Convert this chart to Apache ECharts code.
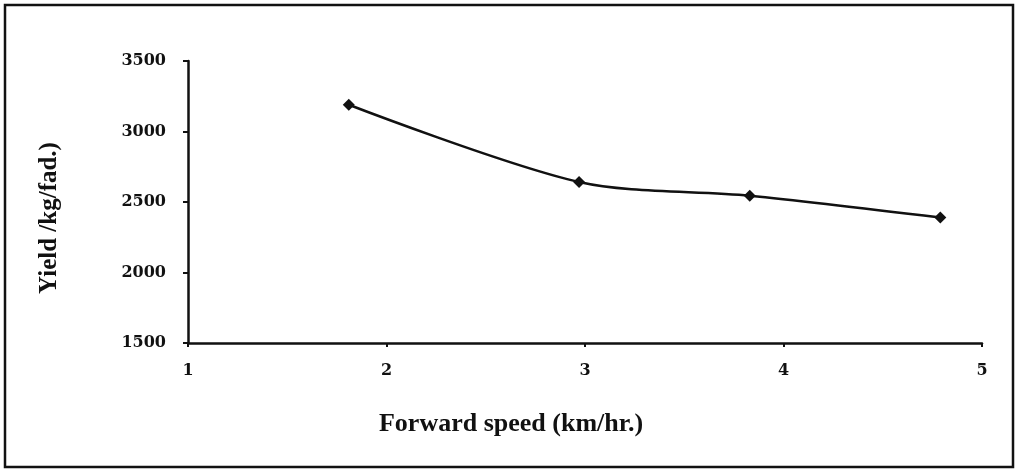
<!DOCTYPE html>
<html><head><meta charset="utf-8">
<script src="https://cdn.jsdelivr.net/npm/echarts@6/dist/echarts.min.js"></script>
<style>html,body{margin:0;padding:0;background:#fff}#c{width:1018px;height:472px}</style>
</head><body><div id="c"></div>
<script>
const speeds = [1.81, 2.97, 3.83, 4.79];
const yields = [3190, 2642, 2545, 2390];
const xTicks = [1, 2, 3, 4, 5];
const yTicks = [1500, 2000, 2500, 3000, 3500];
const xTitle = 'Forward speed (km/hr.)';
const yTitle = 'Yield /kg/fad.)';

const chart = echarts.init(document.getElementById('c'));
const font = '"Liberation Serif", "Times New Roman", serif';
const numFont = '"DejaVu Serif", "Liberation Serif", serif';
chart.setOption({
  animation: false,
  backgroundColor: '#fff',
  grid: {left: 188, right: 36, top: 61, bottom: 129},
  graphic: [
    {type: 'rect', shape: {x: 5, y: 5, width: 1008, height: 462}, style: {fill: 'none', stroke: '#111', lineWidth: 2.5}},
    {type: 'text', x: 511, y: 424, style: {text: xTitle, font: 'bold 26px ' + font, fill: '#111', textAlign: 'center', textVerticalAlign: 'middle'}},
    {type: 'text', x: 50, y: 218, rotation: Math.PI / 2, style: {text: yTitle, font: 'bold 25px ' + font, fill: '#111', textAlign: 'center', textVerticalAlign: 'middle'}}
  ],
  xAxis: {
    type: 'value', min: xTicks[0], max: xTicks[xTicks.length - 1], interval: 1,
    axisLine: {lineStyle: {color: '#111', width: 2.5}},
    axisTick: {show: true, length: 4, lineStyle: {color: '#111', width: 2}},
    axisLabel: {color: '#111', fontFamily: numFont, fontWeight: 'bold', fontSize: 16, margin: 20},
    splitLine: {show: false}
  },
  yAxis: {
    type: 'value', min: yTicks[0], max: yTicks[yTicks.length - 1], interval: 500,
    axisLine: {show: true, lineStyle: {color: '#111', width: 2.5}},
    axisTick: {show: true, length: 5, lineStyle: {color: '#111', width: 2}},
    axisLabel: {color: '#111', fontFamily: numFont, fontWeight: 'bold', fontSize: 16, margin: 22, formatter: v => String(v)},
    splitLine: {show: false}
  },
  series: [{
    type: 'line', data: speeds.map((s, i) => [s, yields[i]]),
    smooth: 0.3, symbol: 'diamond', symbolSize: 12,
    lineStyle: {color: '#111', width: 2.5},
    itemStyle: {color: '#111'}
  }]
});
</script></body></html>
